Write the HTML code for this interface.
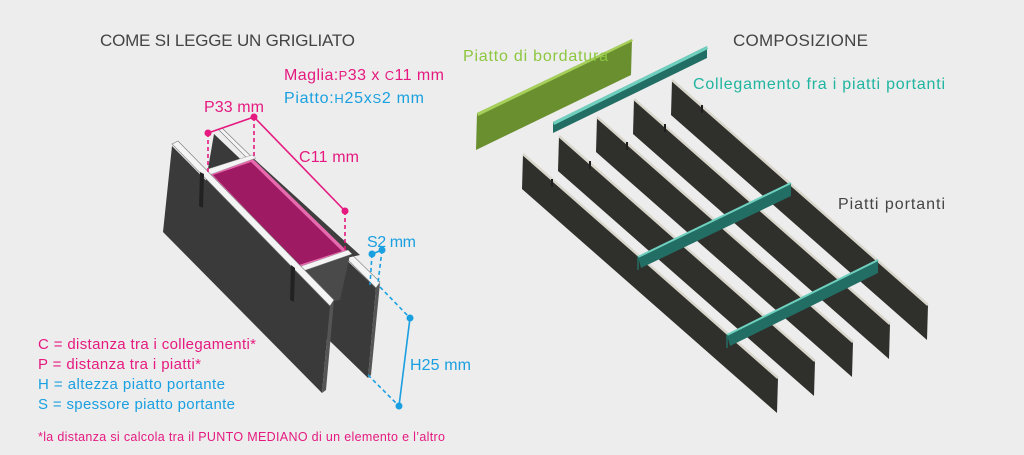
<!DOCTYPE html>
<html><head><meta charset="utf-8"><style>
html,body{margin:0;padding:0;background:#ededed;}
svg{display:block;font-family:"Liberation Sans",sans-serif;}
</style></head><body>
<svg width="1024" height="455" viewBox="0 0 1024 455" xmlns="http://www.w3.org/2000/svg">
<rect width="1024" height="455" fill="#ededed"/>
<text x="100" y="46" font-size="17" fill="#444" textLength="255">COME SI LEGGE UN GRIGLIATO</text>
<text x="733" y="46" font-size="17" fill="#444" textLength="135">COMPOSIZIONE</text>

<!-- Left diagram -->
<polygon points="214,134 376,288 368,378 200,215" fill="#3a3a3a"/>
<polygon points="218,129 222,128 380,282 376,288" fill="#f4f4f4" stroke="#777" stroke-width="0.6"/>
<polygon points="376,288 380,283 371,375 368,378" fill="#555"/>
<polygon points="205,172 300,268 360,255 252,157" fill="#3e3e3e"/>
<polygon points="300,268 350,255 340,300 310,305" fill="#4a4a4a"/>
<polygon points="207,173 252,158 348,252 298,270" fill="#e86aae"/>
<polygon points="213,175 251,162 342,251 299,265" fill="#9e1a62"/>
<polygon points="205,170 252,155 256,158 209,175" fill="#f4f4f4" stroke="#888" stroke-width="0.4"/>
<polygon points="296,268 348,250 352,254 300,272" fill="#f4f4f4" stroke="#888" stroke-width="0.4"/>
<polygon points="172,146 330,306 322,393 163,232" fill="#3a3a3a"/>
<polygon points="172,144 178,141 334,300 330,306" fill="#f4f4f4" stroke="#777" stroke-width="0.6"/>
<polygon points="330,306 334,300 326,390 322,393" fill="#555"/>
<polygon points="200,172 204,174 203,208 199,206" fill="#222"/>
<polygon points="291,265 295,268 294,302 290,300" fill="#222"/>

<g stroke="#e5197f" stroke-width="1.6" fill="none">
<line x1="208" y1="133" x2="254" y2="117"/>
<line x1="254" y1="117" x2="345" y2="211"/>
<g stroke-dasharray="4,3"><line x1="208" y1="133" x2="208" y2="172"/><line x1="254" y1="117" x2="254" y2="157"/><line x1="345" y1="211" x2="345" y2="252"/></g>
</g>
<g fill="#e5197f"><circle cx="208" cy="133" r="3.5"/><circle cx="254" cy="117" r="3.5"/><circle cx="345" cy="211" r="3.5"/></g>
<g stroke="#1aa0e0" stroke-width="1.6" fill="none">
<line x1="372" y1="254" x2="382" y2="250"/>
<line x1="410" y1="318" x2="399" y2="406"/>
<g stroke-dasharray="4,3"><line x1="372" y1="254" x2="370" y2="285"/><line x1="382" y1="250" x2="378" y2="283"/><line x1="380" y1="287" x2="410" y2="318"/><line x1="368" y1="375" x2="399" y2="406"/></g>
</g>
<g fill="#1aa0e0"><circle cx="372" cy="254" r="3.5"/><circle cx="382" cy="250" r="3.5"/><circle cx="410" cy="318" r="3.5"/><circle cx="399" cy="406" r="3.5"/></g>

<g font-size="16">
<text x="284" y="80" fill="#e5197f" textLength="160">Maglia:<tspan font-size="13">P</tspan>33 x <tspan font-size="13">C</tspan>11 mm</text>
<text x="284" y="103" fill="#1aa0e0" textLength="140">Piatto:<tspan font-size="13">H</tspan>25x<tspan font-size="13">S</tspan>2 mm</text>
<text x="204" y="112" fill="#e5197f" textLength="60">P33 mm</text>
<text x="299" y="162" fill="#e5197f" textLength="60">C11 mm</text>
<text x="367" y="247" fill="#1aa0e0" textLength="49">S2 mm</text>
<text x="410" y="370" fill="#1aa0e0" textLength="61">H25 mm</text>
</g>
<g font-size="15">
<text x="38" y="349" fill="#e5197f" textLength="218">C = distanza tra i collegamenti*</text>
<text x="38" y="369" fill="#e5197f" textLength="163">P = distanza tra i piatti*</text>
<text x="38" y="389" fill="#1aa0e0" textLength="187">H = altezza piatto portante</text>
<text x="38" y="409" fill="#1aa0e0" textLength="197">S = spessore piatto portante</text>
</g>
<text x="38" y="441" font-size="12.5" fill="#e5197f" textLength="407">*la distanza si calcola tra il  PUNTO MEDIANO  di un elemento e l’altro</text>

<!-- Right diagram -->
<polygon points="477,113 632,39 631,75 476,150" fill="#6a8f2f"/>
<polygon points="477,113 632,39 633,41 478,116" fill="#a6d05a"/>
<polygon points="553,122 707,46 707,58 553,133" fill="#236e64"/>
<polygon points="553,122 707,46 708,49 554,125" fill="#6fd0bf"/>
<g fill="#2f2f2b">
<polygon points="672,80 928,305 927,340 671,115"/>
<polygon points="634,99 890,324 889,359 633,134"/>
<polygon points="597,117 853,342 852,377 596,152"/>
<polygon points="559,136 815,361 814,396 558,171"/>
<polygon points="523,154 778,378 777,413 522,189"/>
</g>
<g stroke="#d9d6cc" stroke-width="2.5">
<line x1="672" y1="80" x2="928" y2="305"/><line x1="634" y1="99" x2="890" y2="324"/><line x1="597" y1="117" x2="853" y2="342"/><line x1="559" y1="136" x2="815" y2="361"/><line x1="523" y1="154" x2="778" y2="378"/>
</g>
<g fill="#1f1f1f"><rect x="701" y="105" width="2" height="8"/><rect x="664" y="124" width="2" height="8"/><rect x="626" y="142" width="2" height="8"/><rect x="589" y="161" width="2" height="8"/><rect x="551" y="179" width="2" height="8"/></g>
<polygon points="638,257 791,183 791,196 641,268" fill="#236e64"/>
<line x1="638" y1="257" x2="791" y2="183" stroke="#6fd0bf" stroke-width="2"/>
<line x1="638" y1="257" x2="638" y2="270" stroke="#236e64" stroke-width="1.5"/>
<polygon points="727,335 878,260 878,273 730,346" fill="#236e64"/>
<line x1="727" y1="335" x2="878" y2="260" stroke="#6fd0bf" stroke-width="2"/>
<line x1="727" y1="335" x2="727" y2="348" stroke="#236e64" stroke-width="1.5"/>

<text x="463" y="61" font-size="16" fill="#8dc63f" textLength="145">Piatto di bordatura</text>
<text x="693" y="89" font-size="16" fill="#1fb5a0" textLength="252">Collegamento fra i piatti portanti</text>
<text x="838" y="209" font-size="16" fill="#444" textLength="107">Piatti portanti</text>
</svg>
</body></html>
